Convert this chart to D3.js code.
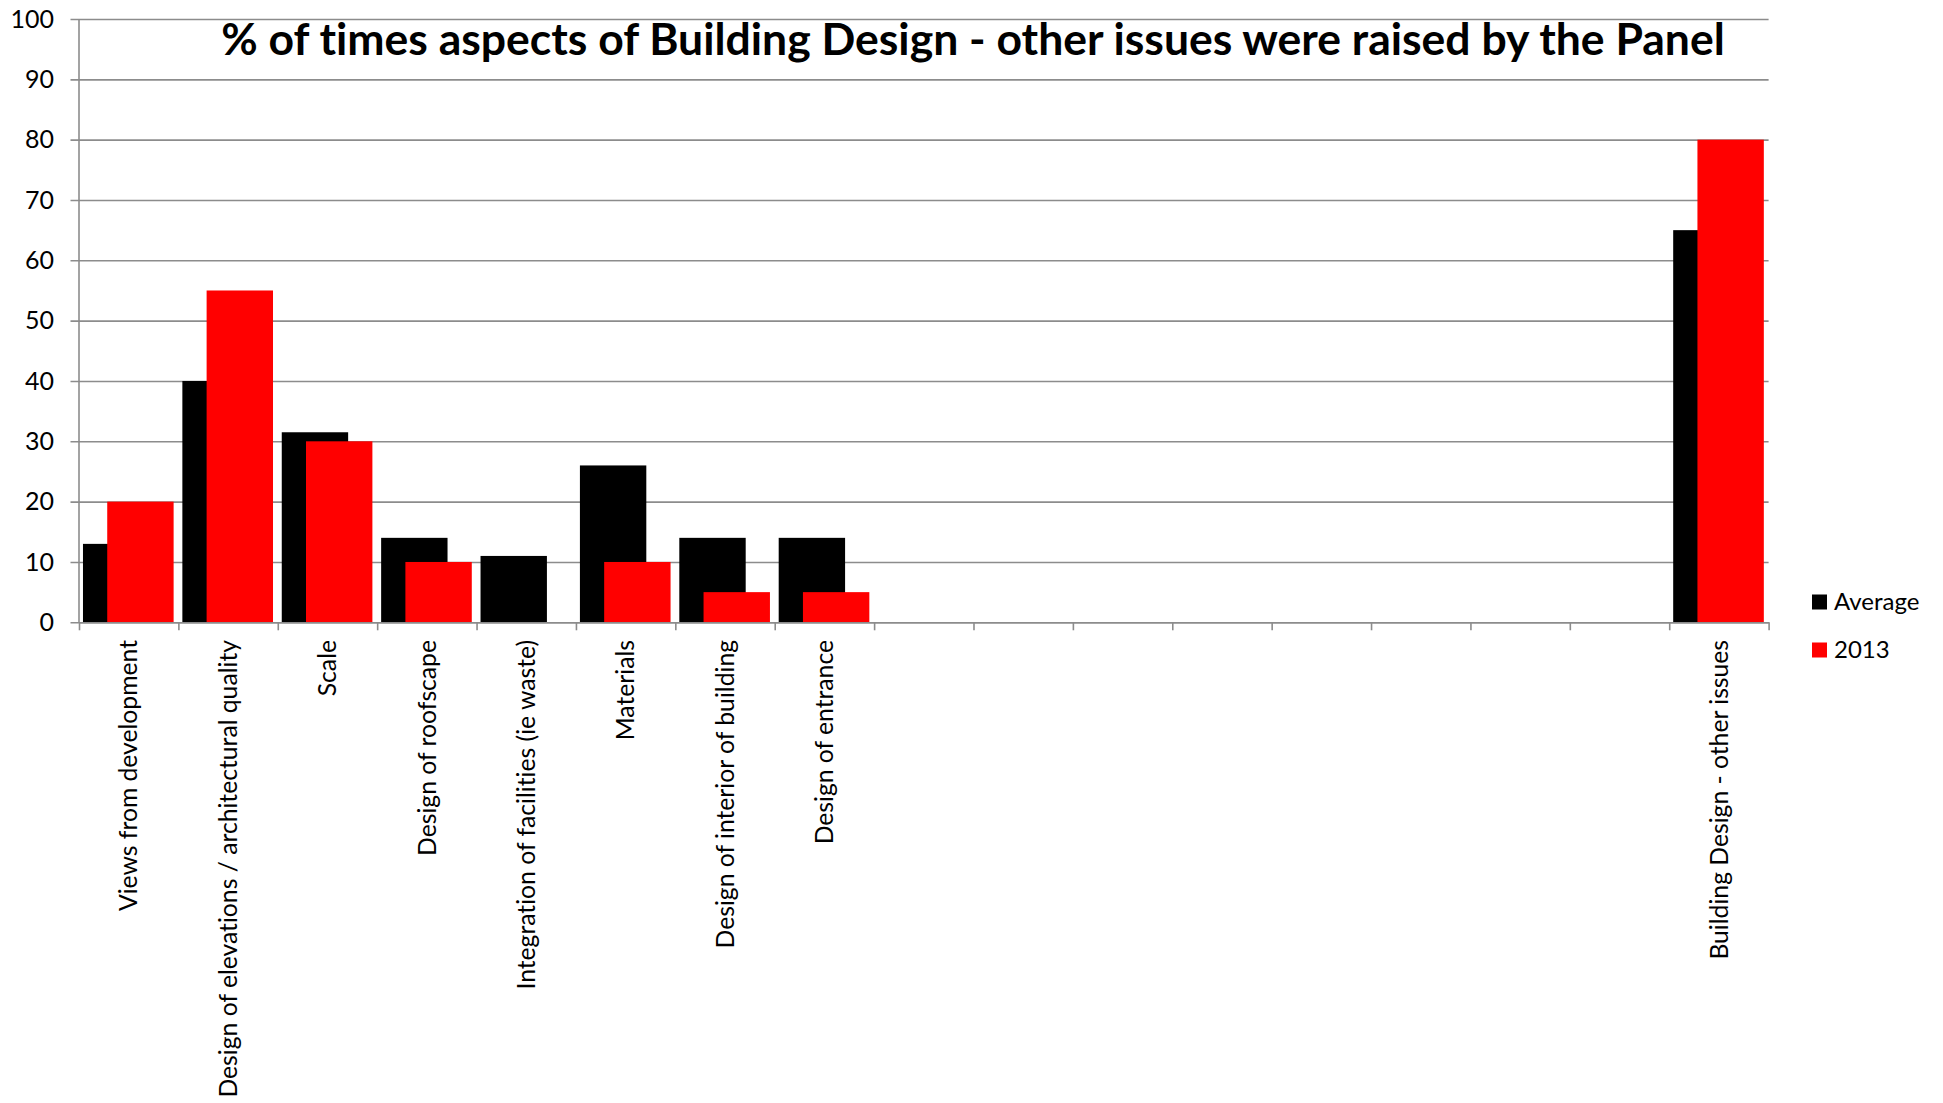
<!DOCTYPE html>
<html>
<head>
<meta charset="utf-8">
<script src="https://cdn.jsdelivr.net/npm/d3@7"></script>
<style>
  html, body { margin: 0; padding: 0; background: #fff; }
  svg { display: block; font-family: Lato, "Open Sans", sans-serif; font-variant-ligatures: none; }
</style>
</head>
<body>
<svg id="chart" width="1943" height="1103"></svg>
<script>
// Category labels along the x axis (blank slots are empty categories)
const categories = [
  "Views from development",
  "Design of elevations / architectural quality",
  "Scale",
  "Design of roofscape",
  "Integration of facilities (ie waste)",
  "Materials",
  "Design of interior of building",
  "Design of entrance",
  "", "", "", "", "", "", "", "",
  "Building Design - other issues"
];

// Percentage of times each aspect was raised
const averageValues = [13, 40, 31.5, 14, 11, 26, 14, 14, null, null, null, null, null, null, null, null, 65];
const values2013    = [20, 55, 30, 10, 0, 10, 5, 5, null, null, null, null, null, null, null, null, 80];

const yTicks = [0, 10, 20, 30, 40, 50, 60, 70, 80, 90, 100];

const seriesNames = ["Average", "2013"];
const seriesColors = ["#000000", "#ff0000"];

const svg = d3.select("#chart");
svg.append("rect").attr("width", 1943).attr("height", 1103).attr("fill", "#fff");

const plot = { left: 79, right: 1768.6, top: 19, bottom: 622.3 };
const gridColor = "#8c8c8c";

const y = d3.scaleLinear().domain([0, 100]).range([plot.bottom, plot.top]);
const x = d3.scaleBand()
  .domain(d3.range(categories.length))
  .range([plot.left, plot.right])
  .paddingInner(0).paddingOuter(0);
const edges = d3.scaleLinear().domain([0, categories.length]).range([plot.left, plot.right]);

// Horizontal gridlines with short outer ticks on the left
const grid = svg.append("g")
  .attr("transform", `translate(${plot.left},0)`)
  .call(d3.axisLeft(y).tickValues(yTicks).tickSizeInner(-(plot.right - plot.left)).tickSizeOuter(0).tickFormat(""));
grid.select(".domain").remove();
grid.selectAll(".tick line")
  .attr("stroke", gridColor).attr("stroke-width", 1.6)
  .attr("x1", -8.5);

// Bars: two overlapping series per category
const bw = x.bandwidth();
const barW = bw * 0.668;
const lead = bw * 0.04;
const shift = bw * 0.244;
[averageValues, values2013].forEach((vals, s) => {
  svg.append("g")
    .selectAll("rect")
    .data(vals.map((v, i) => ({ i, v })).filter(d => d.v != null && d.v > 0))
    .join("rect")
    .attr("x", d => x(d.i) + lead + s * shift)
    .attr("width", barW)
    .attr("y", d => y(d.v))
    .attr("height", d => y(0) - y(d.v))
    .attr("fill", seriesColors[s]);
});

// Y axis line and tick labels
svg.append("line")
  .attr("x1", plot.left).attr("x2", plot.left)
  .attr("y1", plot.top).attr("y2", plot.bottom)
  .attr("stroke", gridColor).attr("stroke-width", 1.6);
svg.append("g")
  .selectAll("text")
  .data(yTicks)
  .join("text")
  .attr("x", 54)
  .attr("y", d => y(d))
  .attr("dy", "0.35em")
  .attr("text-anchor", "end")
  .attr("font-size", 25)
  .attr("fill", "#000")
  .text(d => d);

// X axis with ticks at category boundaries
const xAxis = svg.append("g")
  .attr("transform", `translate(0,${plot.bottom})`)
  .call(d3.axisBottom(edges).tickValues(d3.range(categories.length + 1)).tickSizeInner(8).tickSizeOuter(0).tickFormat(""));
xAxis.select(".domain").attr("stroke", gridColor).attr("stroke-width", 1.6);
xAxis.selectAll(".tick line").attr("stroke", gridColor).attr("stroke-width", 1.6);

// Rotated category labels
svg.append("g")
  .selectAll("text")
  .data(categories.map((c, i) => ({ c, i })).filter(d => d.c))
  .join("text")
  .attr("transform", d => `translate(${x(d.i) + bw / 2},640) rotate(-90)`)
  .attr("dy", "0.35em")
  .attr("text-anchor", "end")
  .attr("font-size", 24.7)
  .attr("fill", "#000")
  .text(d => d.c);

// Title
svg.append("text")
  .attr("x", 973)
  .attr("y", 55)
  .attr("text-anchor", "middle")
  .attr("font-size", 44.5)
  .attr("font-weight", "bold")
  .attr("fill", "#000")
  .text("% of times aspects of Building Design - other issues were raised by the Panel");

// Legend
const legend = svg.append("g");
seriesNames.forEach((name, s) => {
  const cy = 602 + s * 48;
  legend.append("rect")
    .attr("x", 1812).attr("y", cy - 7.5)
    .attr("width", 15).attr("height", 15)
    .attr("fill", seriesColors[s]);
  legend.append("text")
    .attr("x", 1834).attr("y", cy)
    .attr("dy", "0.35em")
    .attr("font-size", 24)
    .attr("fill", "#000")
    .text(name);
});
</script>
</body>
</html>
